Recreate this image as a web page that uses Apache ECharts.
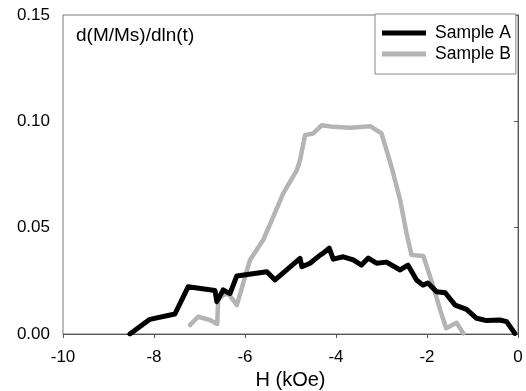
<!DOCTYPE html>
<html>
<head>
<meta charset="utf-8">
<script src="https://cdn.jsdelivr.net/npm/echarts@6/dist/echarts.min.js"></script>
<style>
  html, body { margin: 0; padding: 0; background: #fff; }
  #chart { width: 526px; height: 391px; }
</style>
</head>
<body>
<div id="chart"></div>
<script>
// H (kOe) and d(M/Ms)/dln(t)
const hA = [-8.53, -8.09, -7.54, -7.25, -6.66, -6.62, -6.48, -6.33, -6.18, -5.52, -5.34, -4.79, -4.75, -4.57, -4.35, -4.28, -4.15, -4.06, -3.84, -3.62, -3.44, -3.29, -3.11, -2.89, -2.59, -2.42, -2.23, -2.09, -1.98, -1.79, -1.60, -1.38, -1.13, -0.91, -0.69, -0.40, -0.25, -0.07]
const mA = [0.0, 0.0069, 0.0094, 0.0222, 0.0205, 0.0152, 0.0207, 0.019, 0.0273, 0.0293, 0.0254, 0.0356, 0.0316, 0.0333, 0.0371, 0.038, 0.0404, 0.0352, 0.0363, 0.0348, 0.0324, 0.0357, 0.0333, 0.0338, 0.0301, 0.0324, 0.0254, 0.023, 0.024, 0.0199, 0.0194, 0.0136, 0.0116, 0.0074, 0.0063, 0.0066, 0.0058, 0.0003]

const hB = [-7.21, -7.03, -6.77, -6.61, -6.59, -6.48, -6.37, -6.18, -6.04, -5.89, -5.60, -5.38, -5.16, -4.86, -4.79, -4.68, -4.50, -4.31, -4.06, -3.69, -3.25, -3.00, -2.78, -2.59, -2.45, -2.34, -2.08, -1.86, -1.71, -1.58, -1.35, -1.20]
const mB = [0.0042, 0.0081, 0.0066, 0.0047, 0.016, 0.0183, 0.0191, 0.0136, 0.0238, 0.0348, 0.0442, 0.0551, 0.0661, 0.0771, 0.0818, 0.0935, 0.0943, 0.0982, 0.0974, 0.097, 0.0977, 0.0943, 0.0786, 0.063, 0.0474, 0.0371, 0.0367, 0.0222, 0.0113, 0.0027, 0.0053, 0.0003]

const font = 'Liberation Sans, Arial, sans-serif'
const zip = (xs, ys) => xs.map((x, i) => [x, ys[i]])

const chart = echarts.init(document.getElementById('chart'))
chart.setOption({
  animation: false,
  textStyle: { fontFamily: font },
  grid: {
    left: 63, right: 8, top: 15, bottom: 57,
    outerBoundsMode: 'none',
    containLabel: false,
    show: true, borderColor: '#777', borderWidth: 1
  },
  title: {
    text: 'd(M/Ms)/dln(t)',
    left: 71, top: 21,
    textStyle: { fontFamily: font, fontSize: 19, fontWeight: 'normal', color: '#000' }
  },
  legend: {
    orient: 'vertical',
    left: 375, top: 14,
    padding: [10, 5, 11, 7],
    icon: 'rect',
    itemWidth: 44, itemHeight: 5, itemGap: 3,
    backgroundColor: '#fff',
    borderColor: '#888', borderWidth: 1,
    textStyle: { fontFamily: font, fontSize: 17.5, color: '#000', padding: [0, 0, 0, 4] },
    data: ['Sample A', 'Sample B']
  },
  xAxis: {
    type: 'value',
    min: -10, max: 0, interval: 2,
    name: 'H (kOe)',
    nameLocation: 'middle', nameGap: 35,
    nameTextStyle: { fontFamily: font, fontSize: 20, color: '#000' },
    axisLine: { onZero: false, lineStyle: { color: '#555' } },
    axisTick: { inside: false, length: 4, lineStyle: { color: '#555' } },
    axisLabel: { fontSize: 17, color: '#000', margin: 15 },
    splitLine: { show: false }
  },
  yAxis: {
    type: 'value',
    min: 0, max: 0.15, interval: 0.05,
    axisLine: { show: true, lineStyle: { color: '#555' } },
    axisTick: { show: true, length: 4, lineStyle: { color: '#555' } },
    axisLabel: { fontSize: 17, color: '#000', margin: 13, formatter: v => v.toFixed(2) },
    splitLine: { show: false }
  },
  series: [
    {
      name: 'Sample A',
      type: 'line',
      data: zip(hA, mA),
      symbol: 'none',
      color: '#000',
      lineStyle: { width: 5, color: '#000', join: 'round', cap: 'round' },
      z: 3
    },
    {
      name: 'Sample B',
      type: 'line',
      data: zip(hB, mB),
      symbol: 'none',
      color: '#b4b4b4',
      lineStyle: { width: 4.5, color: '#b4b4b4', join: 'round', cap: 'round' },
      z: 2
    }
  ]
})
</script>
</body>
</html>
